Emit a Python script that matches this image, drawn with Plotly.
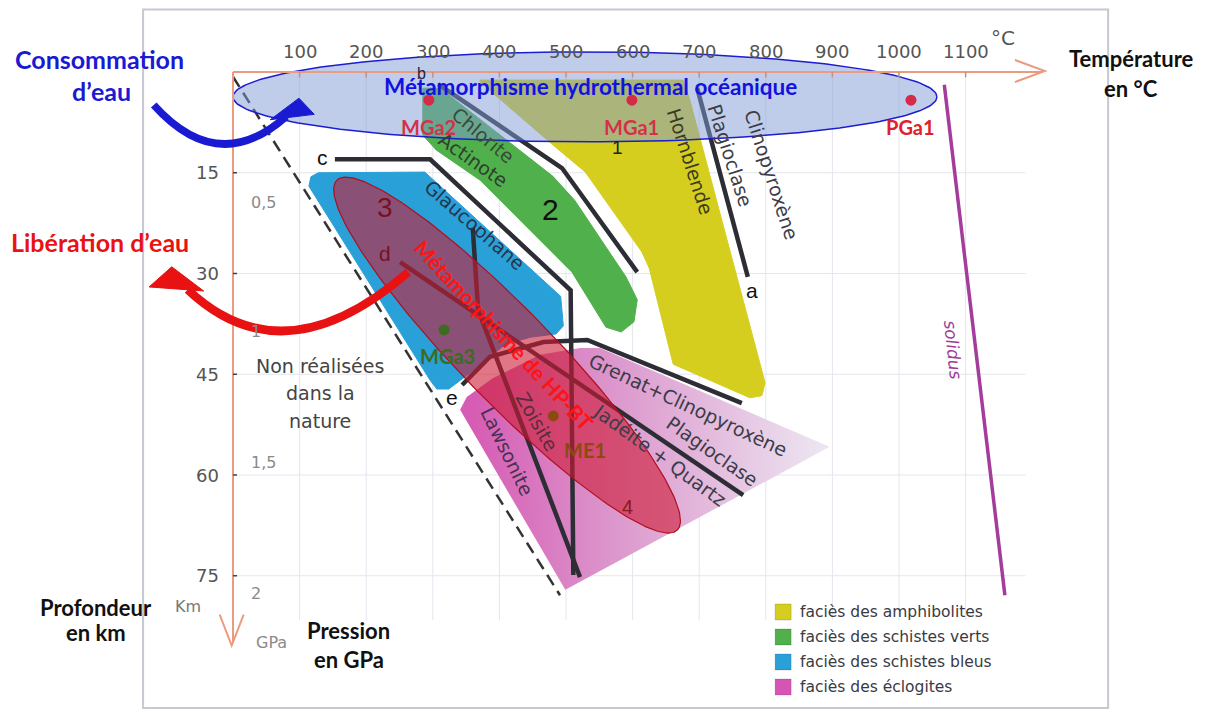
import numpy as np
import plotly.graph_objects as go

# ---------------- data (temperature in °C, depth in km) ----------------
temp_ticks = [100, 200, 300, 400, 500, 600, 700, 800, 900, 1000, 1100]
depth_ticks = [15, 30, 45, 60, 75]
pressure_labels = ["0,5", "1", "1,5", "2"]
pressure_depths = [19.4, 38.7, 58.2, 77.6]

# metamorphic facies fields
amph_T = [371, 676, 686, 799, 794, 776, 661, 625, 614, 529, 481, 371]
amph_D = [1.2, 1.2, 4.2, 46.3, 48.2, 48.5, 43.5, 29.2, 26.8, 14.9, 10.9, 1.5]
green_T = [285, 311, 480, 513, 590, 607, 602, 583, 560, 536, 509, 371, 305, 285]
green_D = [2.4, 2.4, 15.5, 19.1, 30.5, 33.9, 37.2, 38.7, 38.0, 34.2, 29.8, 16.1, 11.6, 9.4]
blue_T = [128, 288, 492, 496, 485, 446, 408, 356, 324, 306, 296, 114, 117]
blue_D = [15.0, 14.9, 33.4, 37.8, 39.0, 39.5, 40.6, 44.8, 47.2, 47.2, 45.9, 17.0, 15.6]
ecl_T = [341, 351, 390, 461, 521, 551, 896, 499]
ecl_D = [50.3, 48.4, 45.6, 42.1, 41.1, 41.1, 55.8, 77.1]

# reaction lines
line_a_T, line_a_D = [697, 773], [2.4, 30.5]
line_b_T, line_b_D = [308, 494, 607], [1.8, 14.3, 29.8]
line_c_T, line_c_D = [153, 296, 507, 511], [13.0, 13.0, 32.5, 74.9]
line_d_T, line_d_D = [251, 766], [28.3, 63.0]
line_e_T, line_e_D = [344, 386, 466, 532, 764], [46.6, 42.4, 40.2, 39.9, 49.3]
line_lz_T, line_lz_D = [360, 368, 521], [23.2, 35.4, 75.2]
limit_T, limit_D = [0, 491], [0.7, 77.9]
solidus_T, solidus_D = [1068, 1159], [1.9, 77.9]

# samples
samples = ["MGa2", "MGa1", "PGa1", "MGa3", "ME1"]
sample_T = [294, 599, 1018, 317, 481]
sample_D = [4.2, 4.2, 4.2, 38.4, 51.2]

# domains (ellipses)
hydro_T = [0, 1057]
hydro_D = [-3.0, 10.4]
hpbt_end_T = [156, 667]
hpbt_end_D = [16.1, 68.2]
hpbt_ratio = 0.19

legend_labels = ["faciès des amphibolites", "faciès des schistes verts",
                 "faciès des schistes bleus", "faciès des éclogites"]
legend_colors = ["#d6ce1e", "#50b04b", "#2aa0d8", "#d655b4"]

# ---------------- geometry of the page ----------------
W, H = 1190, 701
X_RANGE = [-337.84, 1448.95]
Y_RANGE = [94.84, -9.53]
SX = W / (X_RANGE[1] - X_RANGE[0])
SY = H / (Y_RANGE[0] - Y_RANGE[1])

AXIS = "#ec9a80"
INK = "#2d2d35"
LBL = "#3c3c48"

fig = go.Figure()

# grid
for t in temp_ticks:
    fig.add_shape(type="line", x0=t, x1=t, y0=0, y1=81.6, layer="below",
                  line=dict(color="#e4e6ee", width=1))
for d in depth_ticks:
    fig.add_shape(type="line", x0=0, x1=1190, y0=d, y1=d, layer="below",
                  line=dict(color="#e4e6ee", width=1))
# frame
fig.add_shape(type="rect", x0=-135, x1=1314, y0=-9.3, y1=94.7, layer="below",
              line=dict(color="#c6c8d2", width=2))

def poly(T, D, color, **kw):
    fig.add_trace(go.Scatter(x=T + T[:1], y=D + D[:1], mode="lines", fill="toself",
                             fillcolor=color, line=dict(color=color, width=1),
                             hoverinfo="skip", showlegend=False, **kw))

poly(amph_T, amph_D, legend_colors[0])
poly(green_T, green_D, legend_colors[1])
poly(blue_T, blue_D, legend_colors[2])
fig.add_trace(go.Scatter(
    x=ecl_T + ecl_T[:1], y=ecl_D + ecl_D[:1], mode="lines", fill="toself",
    line=dict(color="rgba(0,0,0,0)", width=0), hoverinfo="skip", showlegend=False,
    fillgradient=dict(type="horizontal", start=360, stop=880,
                      colorscale=[[0, "#d65cb4"], [0.4, "#dc96cc"], [1, "#ece4f0"]])))

def line(T, D, color=INK, width=4.5, dash=None):
    fig.add_trace(go.Scatter(x=T, y=D, mode="lines", hoverinfo="skip", showlegend=False,
                             line=dict(color=color, width=width, dash=dash)))

for T, D in [(line_a_T, line_a_D), (line_b_T, line_b_D), (line_c_T, line_c_D),
             (line_d_T, line_d_D), (line_e_T, line_e_D), (line_lz_T, line_lz_D)]:
    line(T, D)
line(limit_T, limit_D, color="#333333", width=2.5, dash="12px,7px")
line(solidus_T, solidus_D, color="#a43c9c", width=3.5)

def ellipse(p1, p2, ratio):
    X1, Y1 = p1[0] * SX, p1[1] * SY
    X2, Y2 = p2[0] * SX, p2[1] * SY
    cx, cy = (X1 + X2) / 2, (Y1 + Y2) / 2
    a = np.hypot(X2 - X1, Y2 - Y1) / 2
    b = a * ratio
    ang = np.arctan2(Y2 - Y1, X2 - X1)
    tt = np.linspace(0, 2 * np.pi, 240)
    ex = cx + a * np.cos(tt) * np.cos(ang) - b * np.sin(tt) * np.sin(ang)
    ey = cy + a * np.cos(tt) * np.sin(ang) + b * np.sin(tt) * np.cos(ang)
    return ex / SX, ey / SY

# HP-BT ellipse
ex, ey = ellipse((hpbt_end_T[0], hpbt_end_D[0]), (hpbt_end_T[1], hpbt_end_D[1]), hpbt_ratio)
fig.add_trace(go.Scatter(x=ex, y=ey, mode="lines", fill="toself",
                         fillcolor="rgba(205,26,54,0.6)",
                         line=dict(color="#b00f1e", width=1.2),
                         hoverinfo="skip", showlegend=False))

# hydrothermal ellipse
hmid = (hydro_D[0] + hydro_D[1]) / 2
hratio = (hydro_D[1] - hydro_D[0]) * SY / ((hydro_T[1] - hydro_T[0]) * SX)
hx, hy = ellipse((hydro_T[0], hmid), (hydro_T[1], hmid), hratio)
fig.add_trace(go.Scatter(x=hx, y=hy, mode="lines", fill="toself",
                         fillcolor="rgba(128,155,215,0.5)",
                         line=dict(color="#1c1cd0", width=1.5),
                         hoverinfo="skip", showlegend=False))

# samples
sample_colors = ["#d42c48", "#d42c48", "#d42c48", "#3d6b1f", "#8b4a12"]
label_colors = ["#d2324a", "#d2324a", "#e0202c", "#3d6b1f", "#8b4a12"]
fig.add_trace(go.Scatter(x=sample_T, y=sample_D, mode="markers", hoverinfo="skip",
                         showlegend=False,
                         marker=dict(size=11, color=sample_colors, line=dict(width=0))))
offsets = [(0, -27), (0, -27), (0, -27), (3, -26), (32, -34)]
for name, T, D, c, (dx, dy) in zip(samples, sample_T, sample_D, label_colors, offsets):
    fig.add_annotation(x=T, y=D, text=f"<b>{name}</b>", showarrow=False, xshift=dx, yshift=dy,
                       font=dict(family="Lato", size=20, color=c))

# legend
leg_y0, leg_step = 80.4, 3.72
for i, (lab, col) in enumerate(zip(legend_labels, legend_colors)):
    y = leg_y0 + i * leg_step
    fig.add_trace(go.Scatter(x=[826], y=[y], mode="markers", hoverinfo="skip", showlegend=False,
                             marker=dict(symbol="square", size=16, color=col,
                                         line=dict(color="rgba(0,0,0,0.15)", width=1))))
    fig.add_annotation(x=848, y=y, text=lab, showarrow=False, xanchor="left",
                       font=dict(family="DejaVu Sans", size=15.5, color="#3a3a44"))

# ---------------- axes ----------------
fig.add_shape(type="line", x0=0, x1=1215, y0=0, y1=0, line=dict(color=AXIS, width=2))
fig.add_shape(type="line", x0=0, x1=0, y0=0, y1=85, line=dict(color=AXIS, width=2))
fig.add_shape(type="path", path="M 1174,-1.8 L 1219,-0.15 L 1174,1.5",
              line=dict(color=AXIS, width=2))
fig.add_shape(type="path", path="M -20,80.8 L -2,85.4 L 16,80.8",
              line=dict(color=AXIS, width=2))
for t in temp_ticks:
    fig.add_shape(type="line", x0=t, x1=t, y0=0, y1=0.8, line=dict(color="#c89080", width=1.5))
    fig.add_annotation(x=t, y=-3.0, text=str(t), showarrow=False,
                       font=dict(family="DejaVu Sans", size=18, color="#555555"))
for d in depth_ticks:
    fig.add_shape(type="line", x0=0, x1=6, y0=d, y1=d, line=dict(color="#444444", width=1.5))
    fig.add_annotation(x=-18, y=d, text=str(d), showarrow=False, xanchor="right",
                       font=dict(family="DejaVu Sans", size=18, color="#555555"))
for lab, d in zip(pressure_labels, pressure_depths):
    fig.add_annotation(x=24, y=d, text=lab, showarrow=False, xanchor="left",
                       font=dict(family="DejaVu Sans", size=16, color="#8a8a8a"))
fig.add_annotation(x=58, y=85.0, text="GPa", showarrow=False,
                   font=dict(family="DejaVu Sans", size=16, color="#8a8a8a"))
fig.add_annotation(x=-68, y=79.6, text="Km", showarrow=False,
                   font=dict(family="DejaVu Sans", size=16, color="#777777"))
fig.add_annotation(x=1156, y=-5.1, text="°C", showarrow=False,
                   font=dict(family="DejaVu Sans", size=20, color="#555555"))

# curved arrows
BLUE = "#1a1ad2"
RED = "#e81212"
fig.add_shape(type="path", path="M -119,4.9 Q -22,15.6 80,6.6",
              line=dict(color=BLUE, width=7.5))
fig.add_shape(type="path", path="M 56,7.1 L 122,6.3 L 99,3.9 Z",
              fillcolor=BLUE, line=dict(color=BLUE, width=1))
fig.add_shape(type="path", path="M 263,29.8 Q 76,45.9 -68,32.4",
              line=dict(color=RED, width=8.5))
fig.add_shape(type="path", path="M -126,32.0 L -92,29.0 L -44,32.6 Z",
              fillcolor=RED, line=dict(color=RED, width=1))

# ---------------- texts ----------------
def txt(x, y, s, size=19, color=LBL, angle=0, family="DejaVu Sans", **kw):
    fig.add_annotation(x=x, y=y, text=s, showarrow=False, textangle=angle,
                       font=dict(family=family, size=size, color=color), **kw)

txt(375, 9.4, "Chlorite", angle=40, color="#3a4a3a")
txt(361, 13.1, "Actinote", angle=35, color="#2f3f2f")
txt(363, 22.8, "Glaucophane", angle=41, color="#24364c")
txt(686, 13.3, "Hornblende", angle=72, color="#3a3a22")
txt(746, 12.4, "Plagioclase", angle=72)
txt(809, 15.3, "Clinopyroxène", angle=72)
txt(683, 49.6, "Grenat+Clinopyroxène", angle=25)
txt(719, 56.5, "Plagioclase", angle=35)
txt(641, 57.0, "Jadéite + Quartz", angle=36)
txt(456, 52.0, "Zoisite", angle=60, color="#5a2c3c")
txt(411, 56.5, "Lawsonite", angle=64, color="#4a3050")
txt(131, 43.8, "Non réalisées", size=19, color="#444444")
txt(131, 47.8, "dans la", size=19, color="#444444")
txt(131, 52.0, "nature", size=19, color="#444444")
txt(476, 20.5, "2", size=30, color="#111111", family="Liberation Sans")
txt(228, 20.2, "3", size=28, color="#7a1020", family="Liberation Sans")
txt(228, 27.0, "d", size=21, color="#7a1020", family="Liberation Sans")
txt(134, 12.8, "c", size=21, color="#111111", family="Liberation Sans")
txt(329, 48.4, "e", size=21, color="#111111", family="Liberation Sans")
txt(779, 32.5, "a", size=21, color="#111111", family="Liberation Sans")
txt(283, 0.2, "b", size=16, color="#222244", family="Liberation Sans")
txt(578, 11.2, "1", size=19, color="#222222", family="Liberation Sans")
txt(592, 64.8, "4", size=20, color="#8a1a20", family="Liberation Sans")
txt(1081, 41.4, "<i>solidus</i>", size=17, color="#a03c98", angle=84)

txt(537, 2.1, "<b>Métamorphisme hydrothermal océanique</b>", size=22.5, color="#1212e0", family="Lato")
txt(408, 39.2, "<b>Métamorphisme de HP-BT</b>", size=21, color="#ff1414", angle=47, family="Lato")

# outer titles
txt(-200, -1.9, "<b>Consommation</b>", size=25, color=BLUE, family="Lato")
txt(-197, 2.8, "<b>d’eau</b>", size=25, color=BLUE, family="Lato")
txt(-200, 25.3, "<b>Libération d’eau</b>", size=25, color=RED, family="Lato")
txt(1349, -2.0, "<b>Température</b>", size=22, color="#111111", family="Lato")
txt(1349, 2.4, "<b>en °C</b>", size=22, color="#111111", family="Lato")
txt(-205, 79.7, "<b>Profondeur</b>", size=22, color="#111111", family="Lato")
txt(-205, 83.5, "<b>en km</b>", size=22, color="#111111", family="Lato")
txt(174, 83.1, "<b>Pression</b>", size=22, color="#111111", family="Lato")
txt(174, 87.4, "<b>en GPa</b>", size=22, color="#111111", family="Lato")

fig.update_layout(
    width=W, height=H, margin=dict(l=0, r=0, t=0, b=0),
    paper_bgcolor="white", plot_bgcolor="white", showlegend=False,
    xaxis=dict(range=X_RANGE, visible=False, fixedrange=True),
    yaxis=dict(range=Y_RANGE, visible=False, fixedrange=True),
)
fig.write_html("out.html")
